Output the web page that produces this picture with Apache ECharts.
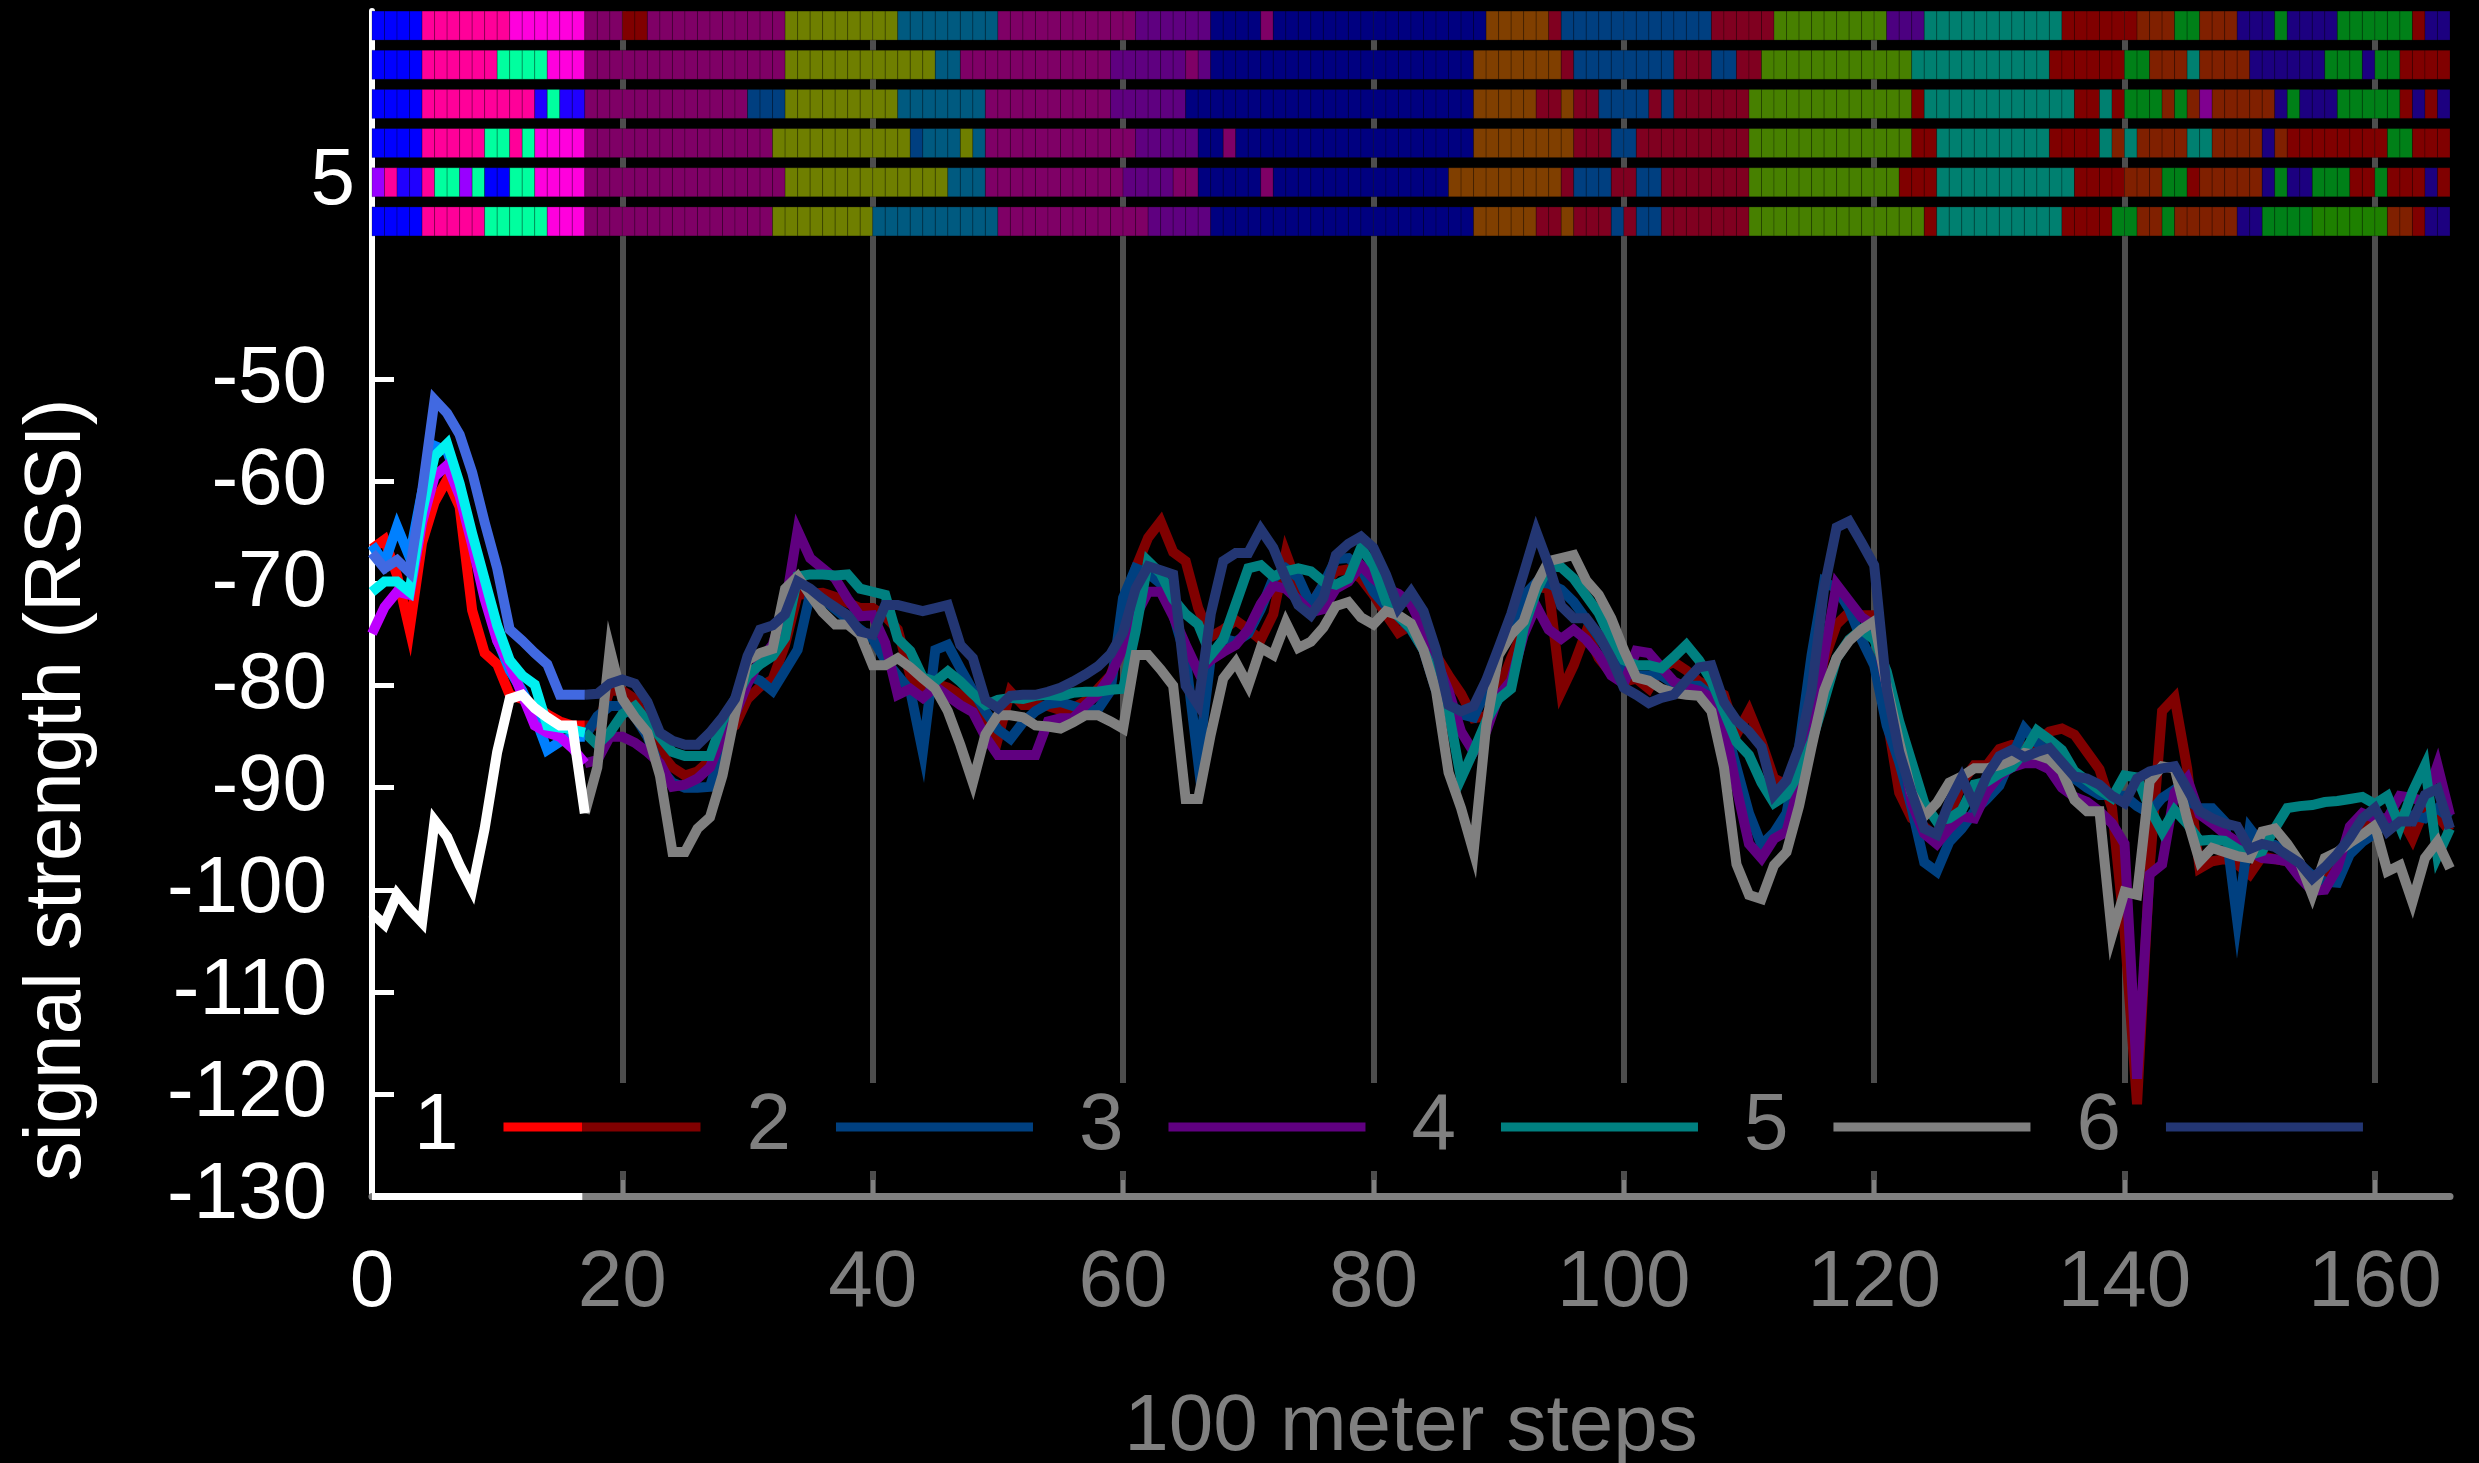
<!DOCTYPE html>
<html>
<head>
<meta charset="utf-8">
<title>signal strength (RSSI)</title>
<script src="https://cdn.jsdelivr.net/npm/echarts@6/dist/echarts.min.js"></script>
<style>
  html, body { margin: 0; padding: 0; background: #000; }
  #chart { width: 2479px; height: 1463px; }
</style>
</head>
<body>
<div id="chart"></div>
<script>
// RSSI per 100 m step (step 0..166), one array per receiver
const rssi1 = [
  -66.6, -65.7, -69.2, -74.5, -66, -62, -59.8, -62.5, -72.6, -76.8,
  -77.9, -80.9, -81.3, -82, -82.8, -83.5, -83.9, -83.9, -83.9, -80.5,
  -80.5, -81.3, -83.9, -86.5, -88, -88.8, -88.4, -87.3, -84.6, -83.9,
  -81.3, -80.1, -79.4, -76, -71.1, -71, -70.9, -71.3, -71.9, -72.4,
  -72.4, -73.2, -74.5, -79, -80.5, -79.8, -80.2, -80.9, -82, -83.2,
  -85.2, -80.6, -81.9, -81.9, -82, -82.4, -82.2, -81.5, -80.3, -79,
  -75.5, -68.5, -65.5, -63.9, -66.9, -67.8, -72.4, -75.2, -74.5, -73.6,
  -74.5, -75.5, -73, -67, -70.3, -72.1, -70.1, -68.8, -68.6, -69.5,
  -71.1, -73, -74.8, -74.1, -75, -77, -79, -80.8, -83.2, -83,
  -80.5, -77.3, -74.5, -70.3, -70.5, -80.6, -78, -74.7, -77.3, -78.8,
  -79.6, -79.3, -80.3, -78.2, -77.7, -78.5, -79.6, -80.2, -80.9, -84.8,
  -82.5, -85.5, -89.1, -89.7, -88, -82.5, -77.5, -74, -72.8, -73.1,
  -73.1, -83, -90.5, -93, -93.8, -94.9, -93, -89.5, -87.8, -87.8,
  -86.2, -85.8, -86, -85.5, -84.5, -84.2, -84.8, -86.5, -88.2, -92,
  -104, -121, -98, -82.5, -81.2, -88.1, -97.9, -97.2, -97, -97.5,
  -98.5, -96.7, -97, -97.2, -98, -98.9, -98.8, -97.6, -96, -94.3,
  -93, -93.5, -92.7, -95, -92, -92.7, -94.3
]
const rssi2 = [
  -66.2, -68, -64.4, -67.4, -61, -56.5, -57, -60.5, -65.5, -70.5,
  -75.5, -78.5, -80.5, -83, -86.3, -85.5, -85, -85, -83, -82,
  -82, -83, -85, -88, -89.5, -90, -90, -89.9, -86, -82,
  -79, -79.5, -80.5, -78.5, -76.5, -71, -71.5, -72.5, -73.5, -74.5,
  -75.4, -77.5, -79, -80.5, -86.5, -76.5, -76, -78.3, -80.5, -82.5,
  -84.3, -85.2, -83.6, -82.5, -81.8, -81.6, -82, -82.4, -82.3, -80.5,
  -71.4, -68.5, -69, -70, -73, -77.3, -87.5, -77.3, -75.4, -75.7,
  -74.9, -72.5, -69.5, -68.5, -69.4, -72.1, -70.1, -67.6, -67.5, -68.5,
  -70.8, -72.2, -73.2, -74.5, -76.5, -80.5, -82.1, -82.8, -83.1, -80.5,
  -76.5, -74.7, -71.2, -69.9, -70, -70.6, -71.8, -73.5, -75.2, -77.1,
  -78.5, -79, -79, -79, -79.8, -80, -80, -81, -83.5, -88,
  -92.5, -95.6, -94.4, -92.5, -86, -77, -69.8, -70.5, -72.5, -75.5,
  -78, -83.9, -87.5, -92, -97.3, -98.2, -95.3, -94, -92.3, -91.1,
  -89.8, -87, -84.2, -85.6, -86.5, -87.5, -89.1, -90, -90.7, -90.7,
  -90.8, -91.8, -92.5, -91, -90.2, -91.2, -92, -92, -93.3, -103,
  -94, -95.6, -95.6, -96.2, -97.5, -98.6, -99.2, -99.3, -96.5, -95.3,
  -94.5, -93.3, -93, -92.7, -93, -92, -93
]
const rssi3 = [
  -74.9, -72.3, -70.8, -71.1, -64, -59.5, -58.4, -61.4, -66.2, -71.5,
  -75.6, -77.9, -80.9, -83.9, -84.6, -85, -86.1, -87.6, -87.3, -85,
  -85, -85.6, -86.5, -87.6, -89.9, -89.7, -89.1, -88, -85, -82.8,
  -79.8, -77.5, -76, -72.3, -64.8, -67.5, -68.5, -69.5, -71.5, -73.2,
  -73.1, -75.8, -80.9, -80.3, -81.2, -80.1, -81, -81.9, -82.6, -85,
  -86.8, -86.8, -86.8, -86.8, -83.5, -83.2, -83.2, -81.9, -80.8, -79,
  -76.3, -73.2, -70.8, -70.8, -73.2, -76, -78.6, -77.5, -76.7, -76,
  -74.5, -72, -70.2, -70.5, -71.6, -72.8, -72.5, -70.5, -69.8, -68.2,
  -69.5, -70.5, -71, -72, -74.5, -77.5, -80.5, -84.5, -86.5, -84.5,
  -81, -79.5, -75, -72.2, -74.5, -75.4, -74.5, -75.5, -77, -79,
  -79.8, -76.6, -76.8, -78.2, -79.6, -80.2, -80.5, -81.2, -83.8, -90,
  -95.5, -96.9, -95, -94.3, -89.6, -84.5, -77, -70.1, -71.7, -73.3,
  -74.1, -80, -84.5, -91.5, -94.5, -95.5, -94, -92.8, -93, -90.4,
  -88.8, -88, -87.6, -87.6, -88.2, -90, -90.9, -91.4, -92.3, -93.5,
  -95.5, -118.5, -98.5, -97.5, -90.5, -89.1, -92.6, -93.5, -94.5, -95.3,
  -96.3, -96.9, -97, -97.2, -98.8, -100.1, -100, -97.9, -93.8, -92.5,
  -93, -93, -90.8, -91, -91.4, -87.8, -92.7
]
const rssi4 = [
  -70.8, -69.8, -69.8, -70.8, -63, -57.5, -56.3, -60.2, -65.1, -69.6,
  -74.1, -77.5, -79, -79.9, -83.9, -84.1, -84.3, -84.6, -85.8, -84.6,
  -82.8, -82, -83.5, -85, -86.5, -86.9, -86.9, -86.9, -83.5, -81.3,
  -79, -77.9, -77.1, -75.3, -69.3, -69.1, -69.1, -69.2, -69.1, -70.5,
  -70.8, -71.1, -75.4, -76.6, -79.2, -79.6, -78.6, -79.6, -80.8, -81.9,
  -81.4, -81.2, -81.3, -81, -80.9, -81, -80.7, -80.6, -80.6, -80.4,
  -80.3, -74.7, -67.8, -69, -71.5, -73, -74, -77, -75.5, -72,
  -68.5, -68.2, -69.3, -68.8, -68.5, -68.8, -69.8, -70.1, -69.5, -66.5,
  -68.2, -71.8, -73.2, -74.4, -76.5, -79.3, -82.5, -89.1, -86.4, -83.5,
  -81.3, -80.3, -74.4, -70.8, -68.3, -68.4, -69.5, -71.2, -72.9, -75.5,
  -77.5, -78, -78, -78.3, -77.2, -76, -77.5, -79.5, -82.5, -85.5,
  -86.8, -89.5, -91.5, -90.7, -88.5, -85.5, -81.5, -77.3, -75.5, -74.5,
  -75.5, -78.6, -83.5, -87.5, -91.5, -93.3, -93, -92.2, -89.7, -89.4,
  -88.6, -88, -86.5, -84.4, -85.3, -86.3, -88.4, -89.3, -90.2, -91,
  -88.8, -89, -92, -94.3, -92.2, -93.5, -95.2, -95.1, -95.2, -96,
  -96.6, -96.2, -94, -92, -91.8, -91.7, -91.4, -91.3, -91.1, -90.9,
  -91.6, -90.8, -93.8, -90.4, -87.8, -96.7, -94
]
const rssi5 = [
  -102.3, -103.4, -100.4, -101.9, -103.2, -93.2, -94.8, -97.6, -100, -94,
  -86.5, -81.3, -80.9, -82.2, -83.1, -83.9, -83.9, -92.5, -88, -76.4,
  -81.3, -83.1, -84.6, -88.8, -96.3, -96.3, -94, -92.9, -88.8, -82.8,
  -77.5, -76.8, -76.4, -70.5, -69.3, -71.1, -72.8, -74, -74, -75,
  -78, -78, -77.3, -78.2, -79.3, -80.3, -82.5, -85.8, -89.5, -84.8,
  -82.9, -82.9, -83.1, -83.9, -84, -84.2, -83.6, -82.9, -82.9, -83.5,
  -84.2, -77, -77, -78.4, -80, -91.1, -91.1, -84.8, -79.3, -77.7,
  -80, -76.3, -77, -73.8, -76.3, -75.7, -74.3, -72.2, -71.8, -73.3,
  -74, -72.7, -73.1, -73.9, -76.5, -80.5, -88.5, -92, -96.3, -84,
  -77, -75, -73.7, -70.1, -67.8, -67.5, -67.2, -69.7, -71.1, -73.4,
  -76.5, -79.2, -79.5, -80.3, -80.7, -80.9, -81, -82.5, -88, -97.5,
  -100.5, -100.9, -97.6, -96.3, -91.8, -86, -80.5, -77.3, -75.6, -74.5,
  -73.7, -80, -85.5, -90.5, -92.8, -91.5, -89.5, -88.9, -88.1, -88.1,
  -87.8, -87.3, -86.6, -86.8, -87.2, -88.4, -91.2, -92.3, -92.3, -104.4,
  -100.2, -100.5, -89.4, -87.9, -88.1, -93, -97.2, -95.9, -96.3, -96.7,
  -96.9, -94.3, -94, -95.5, -97.3, -100.5, -96.9, -96.3, -95.4, -94.6,
  -93.7, -98.2, -97.6, -101.2, -96.9, -95.3, -97.9
]
const rssi6 = [
  -67, -68.5, -67.7, -68.9, -61, -52, -53.3, -55.4, -59.1, -64,
  -68.5, -74.5, -75.6, -76.8, -77.9, -80.9, -80.9, -80.9, -80.8, -79.8,
  -79.4, -79.8, -81.6, -84.6, -85.4, -85.8, -85.8, -84.6, -83.1, -81.3,
  -77.1, -74.5, -74.1, -73, -69.8, -70.5, -71.5, -72.3, -73.1, -74.7,
  -75, -72.1, -72.1, -72.4, -72.7, -72.4, -72.1, -76, -77.3, -81.4,
  -82.2, -81, -80.9, -80.9, -80.6, -80.2, -79.6, -78.9, -78.1, -76.9,
  -74.8, -70.5, -68.3, -68.7, -69.1, -80, -81.9, -73, -67.8, -67,
  -67, -64.7, -66.5, -69.5, -72.1, -73.1, -71.4, -67.2, -66.1, -65.4,
  -66.5, -69.1, -72.4, -70.8, -72.7, -76.5, -81.9, -82.5, -82, -79.5,
  -76.3, -73, -69, -64.9, -68.2, -72.2, -73.4, -73.4, -75, -77.3,
  -80.2, -80.9, -81.7, -81.2, -80.9, -79.5, -78.2, -78, -81.6, -83.4,
  -84.5, -86, -90.7, -89.3, -86, -80.5, -70.5, -64.5, -63.9, -66,
  -68.2, -80.3, -86.5, -90.5, -94, -94.6, -91.4, -89, -91.7, -88.8,
  -86.9, -86.3, -87, -86.5, -86.1, -87.5, -88.9, -89.1, -89.7, -90.8,
  -91.5, -89.1, -88.4, -88.1, -87.9, -90.1, -92.3, -93, -93.5, -93.8,
  -96, -95.5, -95.8, -96.6, -97.4, -98.9, -97.8, -96.5, -94.9, -93,
  -92, -94.3, -93.3, -93.3, -90.7, -90.1, -94
]

const seriesNames = ['1', '2', '3', '4', '5', '6']
const brightColors = ['#ff0000', '#0080ff', '#bf00ff', '#00f0f0', '#ffffff', '#4169e1']
const darkColors = ['#800000', '#004080', '#600080', '#008080', '#808080', '#233673']
const highlightEnd = 17   // first steps are drawn bright

const yTicks = [-130, -120, -110, -100, -90, -80, -70, -60, -50]
const xLabels = [0, 20, 40, 60, 80, 100, 120, 140, 160]
const xTicks = [20, 40, 60, 80, 100, 120, 140, 160]

// cell strips: [colour, from step, to step], row 1 on top
const strip1 = [
  ['blue', 0, 4], ['pink', 4, 11], ['magenta', 11, 17], ['dmag', 17, 20], ['dred', 20, 22], ['dmag', 22, 33],
  ['olive', 33, 42], ['tblue', 42, 50], ['dmag', 50, 61], ['dviol', 61, 67], ['navy', 67, 71], ['dmag', 71, 72],
  ['navy', 72, 89], ['orange', 89, 94], ['crimson', 94, 95], ['sblue', 95, 107], ['crimson', 107, 112],
  ['ygreen', 112, 121], ['iviol', 121, 124], ['teal', 124, 135], ['dred', 135, 141], ['rust', 141, 144],
  ['dgreen', 144, 146], ['rust', 146, 149], ['dindigo', 149, 152], ['dgreen', 152, 153], ['dindigo', 153, 157],
  ['dgreen', 157, 163], ['dred', 163, 164], ['dindigo', 164, 166]
]
const strip2 = [
  ['blue', 0, 4], ['pink', 4, 10], ['spring', 10, 14], ['magenta', 14, 17], ['dmag', 17, 33], ['olive', 33, 45],
  ['tblue', 45, 47], ['dmag', 47, 59], ['dviol', 59, 65], ['dmag', 65, 66], ['dviol', 66, 67], ['navy', 67, 88],
  ['orange', 88, 95], ['crimson', 95, 96], ['sblue', 96, 104], ['crimson', 104, 107], ['sblue', 107, 109],
  ['crimson', 109, 111], ['ygreen', 111, 123], ['teal', 123, 134], ['dred', 134, 140], ['dgreen', 140, 142],
  ['rust', 142, 145], ['teal', 145, 146], ['rust', 146, 150], ['dindigo', 150, 156], ['dgreen', 156, 159],
  ['dindigo', 159, 160], ['dgreen', 160, 162], ['dred', 162, 166]
]
const strip3 = [
  ['blue', 0, 4], ['pink', 4, 13], ['indigo', 13, 14], ['spring', 14, 15], ['indigo', 15, 17], ['dmag', 17, 30],
  ['sblue', 30, 33], ['olive', 33, 42], ['tblue', 42, 49], ['dmag', 49, 59], ['dviol', 59, 65], ['navy', 65, 88],
  ['orange', 88, 93], ['crimson', 93, 95], ['orange', 95, 96], ['crimson', 96, 98], ['sblue', 98, 102],
  ['crimson', 102, 103], ['sblue', 103, 104], ['crimson', 104, 110], ['ygreen', 110, 123], ['dred', 123, 124],
  ['teal', 124, 136], ['dred', 136, 138], ['teal', 138, 139], ['dred', 139, 140], ['dgreen', 140, 143],
  ['rust', 143, 144], ['dgreen', 144, 145], ['rust', 145, 146], ['purple', 146, 147], ['rust', 147, 152],
  ['dindigo', 152, 153], ['dgreen', 153, 154], ['dindigo', 154, 157], ['dgreen', 157, 162], ['dred', 162, 163],
  ['dindigo', 163, 164], ['dred', 164, 165], ['dindigo', 165, 166]
]
const strip4 = [
  ['blue', 0, 4], ['pink', 4, 9], ['spring', 9, 11], ['pink', 11, 12], ['spring', 12, 13], ['magenta', 13, 17],
  ['dmag', 17, 32], ['olive', 32, 43], ['sblue', 43, 44], ['tblue', 44, 47], ['olive', 47, 48], ['tblue', 48, 49],
  ['dmag', 49, 61], ['dviol', 61, 66], ['navy', 66, 68], ['dmag', 68, 69], ['navy', 69, 88], ['orange', 88, 96],
  ['crimson', 96, 99], ['sblue', 99, 101], ['crimson', 101, 110], ['ygreen', 110, 123], ['dred', 123, 125],
  ['teal', 125, 134], ['dred', 134, 138], ['teal', 138, 139], ['rust', 139, 140], ['teal', 140, 141],
  ['rust', 141, 145], ['teal', 145, 147], ['rust', 147, 151], ['dindigo', 151, 152], ['rust', 152, 153],
  ['dred', 153, 161], ['dgreen', 161, 163], ['dred', 163, 166]
]
const strip5 = [
  ['violet', 0, 1], ['pink', 1, 2], ['indigo', 2, 4], ['pink', 4, 5], ['spring', 5, 7], ['violet', 7, 8],
  ['spring', 8, 9], ['blue', 9, 11], ['spring', 11, 13], ['magenta', 13, 17], ['dmag', 17, 33], ['olive', 33, 46],
  ['tblue', 46, 49], ['dmag', 49, 60], ['dviol', 60, 64], ['dmag', 64, 66], ['navy', 66, 71], ['dmag', 71, 72],
  ['navy', 72, 86], ['orange', 86, 95], ['crimson', 95, 96], ['sblue', 96, 99], ['crimson', 99, 101],
  ['sblue', 101, 103], ['crimson', 103, 110], ['ygreen', 110, 122], ['dred', 122, 125], ['teal', 125, 136],
  ['dred', 136, 140], ['rust', 140, 143], ['dgreen', 143, 145], ['dred', 145, 146], ['rust', 146, 151],
  ['dindigo', 151, 152], ['dgreen', 152, 153], ['dindigo', 153, 155], ['dgreen', 155, 158], ['dred', 158, 160],
  ['dgreen', 160, 161], ['dred', 161, 164], ['dindigo', 164, 165], ['dred', 165, 166]
]
const strip6 = [
  ['blue', 0, 4], ['pink', 4, 9], ['spring', 9, 14], ['magenta', 14, 17], ['dmag', 17, 32], ['olive', 32, 40],
  ['tblue', 40, 50], ['dmag', 50, 62], ['dviol', 62, 67], ['navy', 67, 88], ['orange', 88, 93], ['crimson', 93, 95],
  ['orange', 95, 96], ['crimson', 96, 99], ['sblue', 99, 100], ['crimson', 100, 101], ['sblue', 101, 103],
  ['crimson', 103, 110], ['ygreen', 110, 124], ['dred', 124, 125], ['teal', 125, 135], ['dred', 135, 139],
  ['dgreen', 139, 141], ['rust', 141, 143], ['dgreen', 143, 144], ['rust', 144, 149], ['dindigo', 149, 151],
  ['dgreen', 151, 155], ['green2', 155, 161], ['rust', 161, 163], ['dred', 163, 164], ['dindigo', 164, 166]
]

const stripColors = {
  blue: '#0000ff', indigo: '#2000ff', pink: '#ff0099', magenta: '#ff00dd', spring: '#00ff9f', violet: '#9900ff',
  dmag: '#7f0066', dred: '#800000', olive: '#6f7f00', tblue: '#005a80', sblue: '#003f80', navy: '#000080',
  dviol: '#5f0080', orange: '#803f00', crimson: '#800020', ygreen: '#478000', teal: '#008070', rust: '#802000',
  dgreen: '#008018', dindigo: '#1c0080', purple: '#800090', iviol: '#4c0080', green2: '#1e8000'
}

const font = '"Liberation Sans", Arial, Helvetica, sans-serif'
const fontSize = 80
const lineWidth = 10
const chart = echarts.init(document.getElementById('chart'))

const rssi = [rssi1, rssi2, rssi3, rssi4, rssi5, rssi6]
const strips = [strip1, strip2, strip3, strip4, strip5, strip6]

// one cell per step and row
const cells = []
strips.forEach((row, r) => {
  row.forEach(([key, from, to]) => {
    for (let x = from; x < to; x++) cells.push([x, r + 1, key])
  })
})

const lineSeries = []
rssi.forEach((values, i) => {
  lineSeries.push({
    name: seriesNames[i],
    type: 'line',
    xAxisIndex: 0,
    yAxisIndex: 0,
    symbol: 'none',
    silent: true,
    data: values.slice(highlightEnd).map((v, k) => [k + highlightEnd, v]),
    itemStyle: { color: darkColors[i] },
    lineStyle: { color: darkColors[i], width: lineWidth, join: 'miter' }
  })
})
rssi.forEach((values, i) => {
  lineSeries.push({
    name: 'now ' + seriesNames[i],
    type: 'line',
    xAxisIndex: 0,
    yAxisIndex: 0,
    symbol: 'none',
    silent: true,
    clip: false,
    data: values.slice(0, highlightEnd + 1).map((v, k) => [k, v]),
    itemStyle: { color: brightColors[i] },
    lineStyle: { color: brightColors[i], width: lineWidth, join: 'miter' }
  })
})
// white part of the x axis for the highlighted steps
lineSeries[lineSeries.length - 1].markLine = {
  silent: true,
  symbol: ['none', 'none'],
  label: { show: false },
  lineStyle: { color: '#ffffff', width: 7, type: 'solid' },
  data: [[{ coord: [0, -130] }, { coord: [16.8, -130] }]]
}

const legendData = seriesNames.map((name, i) => {
  const item = { name, textStyle: { color: i === 0 ? '#ffffff' : '#808080' } }
  if (i === 0) {
    item.itemStyle = {
      color: {
        type: 'linear', x: 0, y: 0, x2: 1, y2: 0,
        colorStops: [
          { offset: 0, color: '#ff0000' }, { offset: 0.4, color: '#ff0000' },
          { offset: 0.4, color: '#800000' }, { offset: 1, color: '#800000' }
        ]
      }
    }
  }
  return item
})

chart.setOption({
  backgroundColor: '#000',
  animation: false,
  textStyle: { fontFamily: font },
  grid: [
    { left: 372, right: 29, top: 11, bottom: 267, outerBoundsMode: 'none' },
    { left: 372, right: 29, top: 6, height: 235, outerBoundsMode: 'none' }
  ],
  xAxis: [{
    type: 'value',
    gridIndex: 0,
    min: 0,
    max: 166,
    interval: 20,
    axisLine: { onZero: false, lineStyle: { color: '#808080', width: 7 } },
    axisTick: { inside: true, length: 16, lineStyle: { color: '#808080', width: 4 }, customValues: xTicks },
    axisLabel: {
      fontSize, fontFamily: font, margin: 48, customValues: xLabels,
      color: v => (Number(v) === 0 ? '#ffffff' : '#808080')
    },
    splitLine: { show: true, lineStyle: { color: '#4d4d4d', width: 6 } },
    name: '100 meter steps',
    nameLocation: 'middle',
    nameGap: 192,
    nameTextStyle: { color: '#808080', fontSize, fontFamily: font }
  }, {
    type: 'value',
    gridIndex: 1,
    min: 0,
    max: 166,
    show: false
  }],
  yAxis: [{
    type: 'value',
    gridIndex: 0,
    min: -130,
    max: -13.9,
    interval: 10,
    axisLine: { show: true, onZero: false, lineStyle: { color: '#ffffff', width: 6 } },
    axisTick: { show: true, inside: true, length: 22, lineStyle: { color: '#ffffff', width: 5 }, customValues: yTicks },
    axisLabel: { color: '#ffffff', fontSize, fontFamily: font, margin: 45, customValues: yTicks },
    splitLine: { show: false }
  }, {
    type: 'value',
    gridIndex: 1,
    min: 0.5,
    max: 6.5,
    interval: 1,
    inverse: true,
    axisLine: { show: false },
    axisTick: { show: false },
    splitLine: { show: false },
    axisLabel: { color: '#ffffff', fontSize, fontFamily: font, margin: 17, customValues: [5] }
  }],
  legend: {
    data: legendData,
    left: 394,
    top: 1083,
    padding: [4, 20],
    itemGap: 46,
    itemWidth: 197,
    itemHeight: 9,
    icon: 'rect',
    align: 'right',
    selectedMode: false,
    backgroundColor: '#000',
    z: 1,
    textStyle: { fontSize, fontFamily: font, color: '#808080', padding: [0, 40, 0, 0] }
  },
  graphic: [{
    type: 'text',
    x: 58,
    y: 790,
    rotation: Math.PI / 2,
    style: {
      text: 'signal strength (RSSI)',
      fill: '#ffffff',
      font: fontSize + 'px ' + font,
      align: 'center',
      verticalAlign: 'middle'
    }
  }],
  series: [{
    type: 'custom',
    xAxisIndex: 1,
    yAxisIndex: 1,
    silent: true,
    data: cells.map(c => [c[0], c[1]]),
    renderItem: (params, api) => {
      const x = api.value(0)
      const row = api.value(1)
      const a = api.coord([x, row - 0.37])
      const b = api.coord([x + 1, row + 0.37])
      return {
        type: 'rect',
        shape: { x: a[0], y: Math.min(a[1], b[1]), width: b[0] - a[0], height: Math.abs(b[1] - a[1]) },
        style: { fill: stripColors[cells[params.dataIndex][2]], stroke: 'rgba(0,0,0,0.22)', lineWidth: 1 }
      }
    }
  }, ...lineSeries]
})
</script>
</body>
</html>
